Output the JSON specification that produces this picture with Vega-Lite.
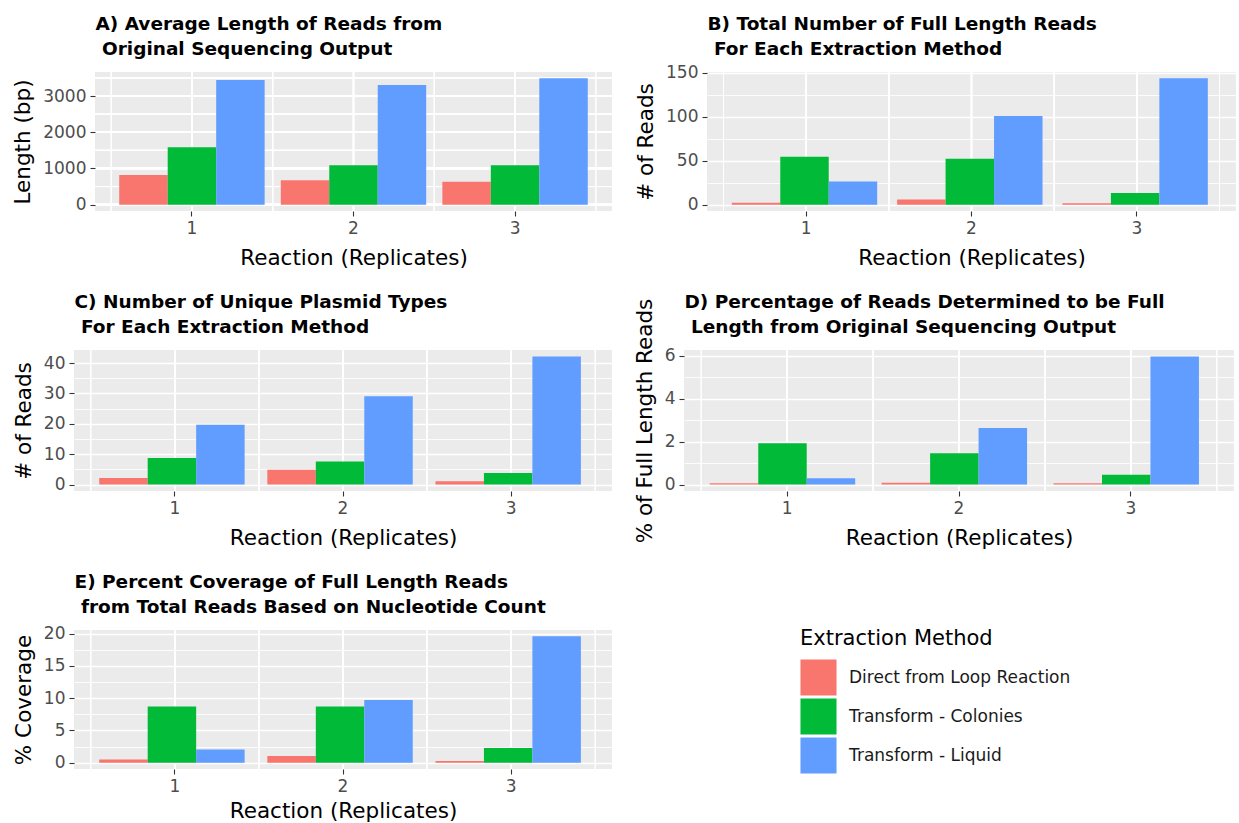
{
  "$schema": "https://vega.github.io/schema/vega-lite/v6.json",
  "padding": {"left": 12, "top": 14, "right": 0, "bottom": 0},
  "data": {"values": [
    {"panel": "A", "Reaction": "1", "Method": "Direct from Loop Reaction", "value": 822},
    {"panel": "A", "Reaction": "1", "Method": "Transform - Colonies", "value": 1589},
    {"panel": "A", "Reaction": "1", "Method": "Transform - Liquid", "value": 3443},
    {"panel": "A", "Reaction": "2", "Method": "Direct from Loop Reaction", "value": 676},
    {"panel": "A", "Reaction": "2", "Method": "Transform - Colonies", "value": 1087},
    {"panel": "A", "Reaction": "2", "Method": "Transform - Liquid", "value": 3306},
    {"panel": "A", "Reaction": "3", "Method": "Direct from Loop Reaction", "value": 630},
    {"panel": "A", "Reaction": "3", "Method": "Transform - Colonies", "value": 1087},
    {"panel": "A", "Reaction": "3", "Method": "Transform - Liquid", "value": 3489},
    {"panel": "B", "Reaction": "1", "Method": "Direct from Loop Reaction", "value": 2.3},
    {"panel": "B", "Reaction": "1", "Method": "Transform - Colonies", "value": 54.5},
    {"panel": "B", "Reaction": "1", "Method": "Transform - Liquid", "value": 26.3},
    {"panel": "B", "Reaction": "2", "Method": "Direct from Loop Reaction", "value": 6},
    {"panel": "B", "Reaction": "2", "Method": "Transform - Colonies", "value": 52.3},
    {"panel": "B", "Reaction": "2", "Method": "Transform - Liquid", "value": 100.8},
    {"panel": "B", "Reaction": "3", "Method": "Direct from Loop Reaction", "value": 1.5},
    {"panel": "B", "Reaction": "3", "Method": "Transform - Colonies", "value": 13.2},
    {"panel": "B", "Reaction": "3", "Method": "Transform - Liquid", "value": 143.6},
    {"panel": "C", "Reaction": "1", "Method": "Direct from Loop Reaction", "value": 2.2},
    {"panel": "C", "Reaction": "1", "Method": "Transform - Colonies", "value": 8.75},
    {"panel": "C", "Reaction": "1", "Method": "Transform - Liquid", "value": 19.7},
    {"panel": "C", "Reaction": "2", "Method": "Direct from Loop Reaction", "value": 4.9},
    {"panel": "C", "Reaction": "2", "Method": "Transform - Colonies", "value": 7.6},
    {"panel": "C", "Reaction": "2", "Method": "Transform - Liquid", "value": 29.1},
    {"panel": "C", "Reaction": "3", "Method": "Direct from Loop Reaction", "value": 1.1},
    {"panel": "C", "Reaction": "3", "Method": "Transform - Colonies", "value": 3.8},
    {"panel": "C", "Reaction": "3", "Method": "Transform - Liquid", "value": 42.2},
    {"panel": "D", "Reaction": "1", "Method": "Direct from Loop Reaction", "value": 0.06},
    {"panel": "D", "Reaction": "1", "Method": "Transform - Colonies", "value": 1.93},
    {"panel": "D", "Reaction": "1", "Method": "Transform - Liquid", "value": 0.3},
    {"panel": "D", "Reaction": "2", "Method": "Direct from Loop Reaction", "value": 0.09},
    {"panel": "D", "Reaction": "2", "Method": "Transform - Colonies", "value": 1.46},
    {"panel": "D", "Reaction": "2", "Method": "Transform - Liquid", "value": 2.64},
    {"panel": "D", "Reaction": "3", "Method": "Direct from Loop Reaction", "value": 0.06},
    {"panel": "D", "Reaction": "3", "Method": "Transform - Colonies", "value": 0.46},
    {"panel": "D", "Reaction": "3", "Method": "Transform - Liquid", "value": 5.98},
    {"panel": "E", "Reaction": "1", "Method": "Direct from Loop Reaction", "value": 0.51},
    {"panel": "E", "Reaction": "1", "Method": "Transform - Colonies", "value": 8.7},
    {"panel": "E", "Reaction": "1", "Method": "Transform - Liquid", "value": 2.05},
    {"panel": "E", "Reaction": "2", "Method": "Direct from Loop Reaction", "value": 1.03},
    {"panel": "E", "Reaction": "2", "Method": "Transform - Colonies", "value": 8.7},
    {"panel": "E", "Reaction": "2", "Method": "Transform - Liquid", "value": 9.74},
    {"panel": "E", "Reaction": "3", "Method": "Direct from Loop Reaction", "value": 0.26},
    {"panel": "E", "Reaction": "3", "Method": "Transform - Colonies", "value": 2.26},
    {"panel": "E", "Reaction": "3", "Method": "Transform - Liquid", "value": 19.6}
  ]},
  "spacing": 23,
  "vconcat": [
    {
      "spacing": 22,
      "hconcat": [
        {
          "width": 538, "height": 139,
          "view": {"fill": "#FFFFFF"},
          "transform": [{"filter": "datum.panel === 'A'"}],
          "resolve": {"axis": {"x": "independent"}},
          "layer": [
            {"mark": {"type": "bar", "color": "#EBEBEB", "width": {"band": 3.5556}}, "encoding": {"x": {"datum": "2", "type": "ordinal", "axis": null, "scale": {"range": [21, 538], "paddingInner": 0.1, "paddingOuter": 0.15}}, "y": {"datum": -174.5, "type": "quantitative", "title": "Length (bp)"}, "y2": {"datum": 3663.5}}},
            {"mark": {"type": "rule", "color": "#FFFFFF", "strokeWidth": 0.85}, "encoding": {"y": {"datum": 500, "type": "quantitative", "title": "Length (bp)"}}},
            {"mark": {"type": "rule", "color": "#FFFFFF", "strokeWidth": 0.85}, "encoding": {"y": {"datum": 1500, "type": "quantitative", "title": "Length (bp)"}}},
            {"mark": {"type": "rule", "color": "#FFFFFF", "strokeWidth": 0.85}, "encoding": {"y": {"datum": 2500, "type": "quantitative", "title": "Length (bp)"}}},
            {"mark": {"type": "rule", "color": "#FFFFFF", "strokeWidth": 0.85}, "encoding": {"y": {"datum": 3500, "type": "quantitative", "title": "Length (bp)"}}},
            {"mark": {"type": "rule", "color": "#FFFFFF", "strokeWidth": 1.7}, "encoding": {"y": {"datum": 0, "type": "quantitative", "title": "Length (bp)"}}},
            {"mark": {"type": "rule", "color": "#FFFFFF", "strokeWidth": 1.7}, "encoding": {"y": {"datum": 1000, "type": "quantitative", "title": "Length (bp)"}}},
            {"mark": {"type": "rule", "color": "#FFFFFF", "strokeWidth": 1.7}, "encoding": {"y": {"datum": 2000, "type": "quantitative", "title": "Length (bp)"}}},
            {"mark": {"type": "rule", "color": "#FFFFFF", "strokeWidth": 1.7}, "encoding": {"y": {"datum": 3000, "type": "quantitative", "title": "Length (bp)"}}},
            {"mark": {"type": "rule", "color": "#FFFFFF", "strokeWidth": 0.85}, "encoding": {"x": {"field": "Reaction", "type": "ordinal", "bandPosition": -0.0556, "axis": null}}},
            {"mark": {"type": "rule", "color": "#FFFFFF", "strokeWidth": 0.85}, "encoding": {"x": {"field": "Reaction", "type": "ordinal", "bandPosition": 1.0556, "axis": null}}},
            {"mark": {"type": "rule", "color": "#FFFFFF", "strokeWidth": 1.7}, "encoding": {"x": {"field": "Reaction", "type": "ordinal", "bandPosition": 0.5, "axis": {"orient": "top", "title": ["A) Average Length of Reads from", "\u200b\u00a0Original Sequencing Output"], "labels": false, "ticks": false, "domain": false, "grid": false, "titleAnchor": "start", "titleAlign": "left", "titleFontWeight": "bold", "titleFontSize": 18.5, "titleLineHeight": 25, "titlePadding": 14}}}},
            {"mark": "bar", "encoding": {
              "x": {"field": "Reaction", "type": "ordinal", "title": "Reaction (Replicates)"},
              "xOffset": {"field": "Method", "type": "nominal", "scale": {"paddingInner": 0, "paddingOuter": 0}},
              "y": {"field": "value", "type": "quantitative", "title": "Length (bp)", "scale": {"domain": [-174.5, 3663.5], "nice": false, "zero": false},
                "axis": {"format": "d", "grid": false, "offset": -21, "zindex": 2, "values": [0, 1000, 2000, 3000], "title": "Length (bp)"}},
              "color": {"field": "Method", "type": "nominal", "scale": {"domain": ["Direct from Loop Reaction", "Transform - Colonies", "Transform - Liquid"], "range": ["#F8766D", "#00BA38", "#619CFF"]}, "legend": {"title": "Extraction Method", "orient": "none", "legendX": 726, "legendY": 556}}
            }}
          ]
        },
        {
          "width": 529, "height": 139,
          "transform": [{"filter": "datum.panel === 'B'"}],
          "resolve": {"axis": {"x": "independent"}},
          "layer": [
            {"mark": {"type": "rule", "color": "#FFFFFF", "strokeWidth": 0.85}, "encoding": {"x": {"field": "Reaction", "type": "ordinal", "bandPosition": -0.0556, "axis": null, "scale": {"paddingInner": 0.1, "paddingOuter": 0.15}}}},
            {"mark": {"type": "rule", "color": "#FFFFFF", "strokeWidth": 0.85}, "encoding": {"x": {"field": "Reaction", "type": "ordinal", "bandPosition": 1.0556, "axis": null}}},
            {"mark": {"type": "rule", "color": "#FFFFFF", "strokeWidth": 1.7}, "encoding": {"x": {"field": "Reaction", "type": "ordinal", "bandPosition": 0.5, "axis": {"orient": "top", "title": ["B) Total Number of Full Length Reads", "\u200b\u00a0For Each Extraction Method"], "labels": false, "ticks": false, "domain": false, "grid": false, "titleAnchor": "start", "titleAlign": "left", "titleFontWeight": "bold", "titleFontSize": 18.5, "titleLineHeight": 25, "titlePadding": 14}}}},
            {"mark": "bar", "encoding": {
              "x": {"field": "Reaction", "type": "ordinal", "title": "Reaction (Replicates)"},
              "xOffset": {"field": "Method", "type": "nominal", "scale": {"paddingInner": 0, "paddingOuter": 0}},
              "y": {"field": "value", "type": "quantitative", "title": "# of Reads", "scale": {"domain": [-7.18, 150.78], "nice": false, "zero": false},
                "axis": {"values": [0, 25, 50, 75, 100, 125, 150], "labelExpr": "datum.value % 50 === 0 ? datum.label : ''", "gridWidth": {"condition": {"test": "datum.value % 50 !== 0", "value": 0.85}, "value": 1.7}, "tickOpacity": {"condition": {"test": "datum.value % 50 !== 0", "value": 0}, "value": 1}}},
              "color": {"field": "Method", "type": "nominal", "scale": {"domain": ["Direct from Loop Reaction", "Transform - Colonies", "Transform - Liquid"], "range": ["#F8766D", "#00BA38", "#619CFF"]}, "legend": {"title": "Extraction Method", "orient": "none", "legendX": 726, "legendY": 556}}
            }}
          ]
        }
      ]
    },
    {
      "spacing": 22,
      "hconcat": [
        {
          "width": 538, "height": 141,
          "transform": [{"filter": "datum.panel === 'C'"}],
          "resolve": {"axis": {"x": "independent"}},
          "layer": [
            {"mark": {"type": "rule", "color": "#FFFFFF", "strokeWidth": 0.85}, "encoding": {"x": {"field": "Reaction", "type": "ordinal", "bandPosition": -0.0556, "axis": null, "scale": {"paddingInner": 0.1, "paddingOuter": 0.15}}}},
            {"mark": {"type": "rule", "color": "#FFFFFF", "strokeWidth": 0.85}, "encoding": {"x": {"field": "Reaction", "type": "ordinal", "bandPosition": 1.0556, "axis": null}}},
            {"mark": {"type": "rule", "color": "#FFFFFF", "strokeWidth": 1.7}, "encoding": {"x": {"field": "Reaction", "type": "ordinal", "bandPosition": 0.5, "axis": {"orient": "top", "title": ["C) Number of Unique Plasmid Types", "\u200b\u00a0For Each Extraction Method"], "labels": false, "ticks": false, "domain": false, "grid": false, "titleAnchor": "start", "titleAlign": "left", "titleFontWeight": "bold", "titleFontSize": 18.5, "titleLineHeight": 25, "titlePadding": 14}}}},
            {"mark": "bar", "encoding": {
              "x": {"field": "Reaction", "type": "ordinal", "title": "Reaction (Replicates)"},
              "xOffset": {"field": "Method", "type": "nominal", "scale": {"paddingInner": 0, "paddingOuter": 0}},
              "y": {"field": "value", "type": "quantitative", "title": "# of Reads", "scale": {"domain": [-2.11, 44.31], "nice": false, "zero": false},
                "axis": {"values": [0, 5, 10, 15, 20, 25, 30, 35, 40], "labelExpr": "datum.value % 10 === 0 ? datum.label : ''", "gridWidth": {"condition": {"test": "datum.value % 10 !== 0", "value": 0.85}, "value": 1.7}, "tickOpacity": {"condition": {"test": "datum.value % 10 !== 0", "value": 0}, "value": 1}}},
              "color": {"field": "Method", "type": "nominal", "scale": {"domain": ["Direct from Loop Reaction", "Transform - Colonies", "Transform - Liquid"], "range": ["#F8766D", "#00BA38", "#619CFF"]}, "legend": {"title": "Extraction Method", "orient": "none", "legendX": 726, "legendY": 556}}
            }}
          ]
        },
        {
          "width": 550, "height": 141,
          "transform": [{"filter": "datum.panel === 'D'"}],
          "resolve": {"axis": {"x": "independent"}},
          "layer": [
            {"mark": {"type": "rule", "color": "#FFFFFF", "strokeWidth": 0.85}, "encoding": {"x": {"field": "Reaction", "type": "ordinal", "bandPosition": -0.0556, "axis": null, "scale": {"paddingInner": 0.1, "paddingOuter": 0.15}}}},
            {"mark": {"type": "rule", "color": "#FFFFFF", "strokeWidth": 0.85}, "encoding": {"x": {"field": "Reaction", "type": "ordinal", "bandPosition": 1.0556, "axis": null}}},
            {"mark": {"type": "rule", "color": "#FFFFFF", "strokeWidth": 1.7}, "encoding": {"x": {"field": "Reaction", "type": "ordinal", "bandPosition": 0.5, "axis": {"orient": "top", "title": ["D) Percentage of Reads Determined to be Full", "\u200b\u00a0Length from Original Sequencing Output"], "labels": false, "ticks": false, "domain": false, "grid": false, "titleAnchor": "start", "titleAlign": "left", "titleFontWeight": "bold", "titleFontSize": 18.5, "titleLineHeight": 25, "titlePadding": 14}}}},
            {"mark": "bar", "encoding": {
              "x": {"field": "Reaction", "type": "ordinal", "title": "Reaction (Replicates)"},
              "xOffset": {"field": "Method", "type": "nominal", "scale": {"paddingInner": 0, "paddingOuter": 0}},
              "y": {"field": "value", "type": "quantitative", "title": "% of Full Length Reads", "scale": {"domain": [-0.299, 6.279], "nice": false, "zero": false},
                "axis": {"values": [0, 1, 2, 3, 4, 5, 6], "labelExpr": "datum.value % 2 === 0 ? datum.label : ''", "gridWidth": {"condition": {"test": "datum.value % 2 !== 0", "value": 0.85}, "value": 1.7}, "tickOpacity": {"condition": {"test": "datum.value % 2 !== 0", "value": 0}, "value": 1}}},
              "color": {"field": "Method", "type": "nominal", "scale": {"domain": ["Direct from Loop Reaction", "Transform - Colonies", "Transform - Liquid"], "range": ["#F8766D", "#00BA38", "#619CFF"]}, "legend": {"title": "Extraction Method", "orient": "none", "legendX": 726, "legendY": 556}}
            }}
          ]
        }
      ]
    },
    {
      "width": 538, "height": 139,
      "transform": [{"filter": "datum.panel === 'E'"}],
      "resolve": {"axis": {"x": "independent"}},
      "layer": [
        {"mark": {"type": "rule", "color": "#FFFFFF", "strokeWidth": 0.85}, "encoding": {"x": {"field": "Reaction", "type": "ordinal", "bandPosition": -0.0556, "axis": null, "scale": {"paddingInner": 0.1, "paddingOuter": 0.15}}}},
        {"mark": {"type": "rule", "color": "#FFFFFF", "strokeWidth": 0.85}, "encoding": {"x": {"field": "Reaction", "type": "ordinal", "bandPosition": 1.0556, "axis": null}}},
        {"mark": {"type": "rule", "color": "#FFFFFF", "strokeWidth": 1.7}, "encoding": {"x": {"field": "Reaction", "type": "ordinal", "bandPosition": 0.5, "axis": {"orient": "top", "title": ["E) Percent Coverage of Full Length Reads", "\u200b\u00a0from Total Reads Based on Nucleotide Count"], "labels": false, "ticks": false, "domain": false, "grid": false, "titleAnchor": "start", "titleAlign": "left", "titleFontWeight": "bold", "titleFontSize": 18.5, "titleLineHeight": 25, "titlePadding": 14}}}},
        {"mark": "bar", "encoding": {
          "x": {"field": "Reaction", "type": "ordinal", "title": "Reaction (Replicates)", "axis": {"titlePadding": 6}},
          "xOffset": {"field": "Method", "type": "nominal", "scale": {"paddingInner": 0, "paddingOuter": 0}},
          "y": {"field": "value", "type": "quantitative", "title": "% Coverage", "scale": {"domain": [-0.98, 20.58], "nice": false, "zero": false},
            "axis": {"values": [0, 2.5, 5, 7.5, 10, 12.5, 15, 17.5, 20], "labelExpr": "datum.value % 5 === 0 ? datum.label : ''", "gridWidth": {"condition": {"test": "datum.value % 5 !== 0", "value": 0.85}, "value": 1.7}, "tickOpacity": {"condition": {"test": "datum.value % 5 !== 0", "value": 0}, "value": 1}}},
          "color": {"field": "Method", "type": "nominal", "scale": {"domain": ["Direct from Loop Reaction", "Transform - Colonies", "Transform - Liquid"], "range": ["#F8766D", "#00BA38", "#619CFF"]}, "legend": {"title": "Extraction Method", "orient": "none", "legendX": 726, "legendY": 556}}
        }}
      ]
    }
  ],
  "config": {
    "font": "DejaVu Sans",
    "background": "#FFFFFF",
    "view": {"fill": "#EBEBEB", "stroke": null},
    "axis": {"domain": false, "tickColor": "#333333", "tickSize": 5, "tickWidth": 1.1, "labelColor": "#4D4D4D", "labelFontSize": 17, "labelFont": "DejaVu Sans", "labelPadding": 4, "titleFont": "DejaVu Sans", "titleFontSize": 21.5, "titleFontWeight": "normal", "titleColor": "#000000", "gridColor": "#FFFFFF"},
    "axisX": {"grid": false, "labelAngle": 0, "titlePadding": 11},
    "axisY": {"grid": true, "titlePadding": 8},
    "legend": {"symbolType": "square", "symbolSize": 1300, "symbolStrokeWidth": 0, "titleFont": "DejaVu Sans", "titleFontSize": 21, "titleFontWeight": "normal", "titleColor": "#000000", "titleLimit": 400, "labelFont": "DejaVu Sans", "labelFontSize": 17, "labelColor": "#1A1A1A", "rowPadding": 2, "labelOffset": 12, "titlePadding": 10, "labelLimit": 400}
  }
}
